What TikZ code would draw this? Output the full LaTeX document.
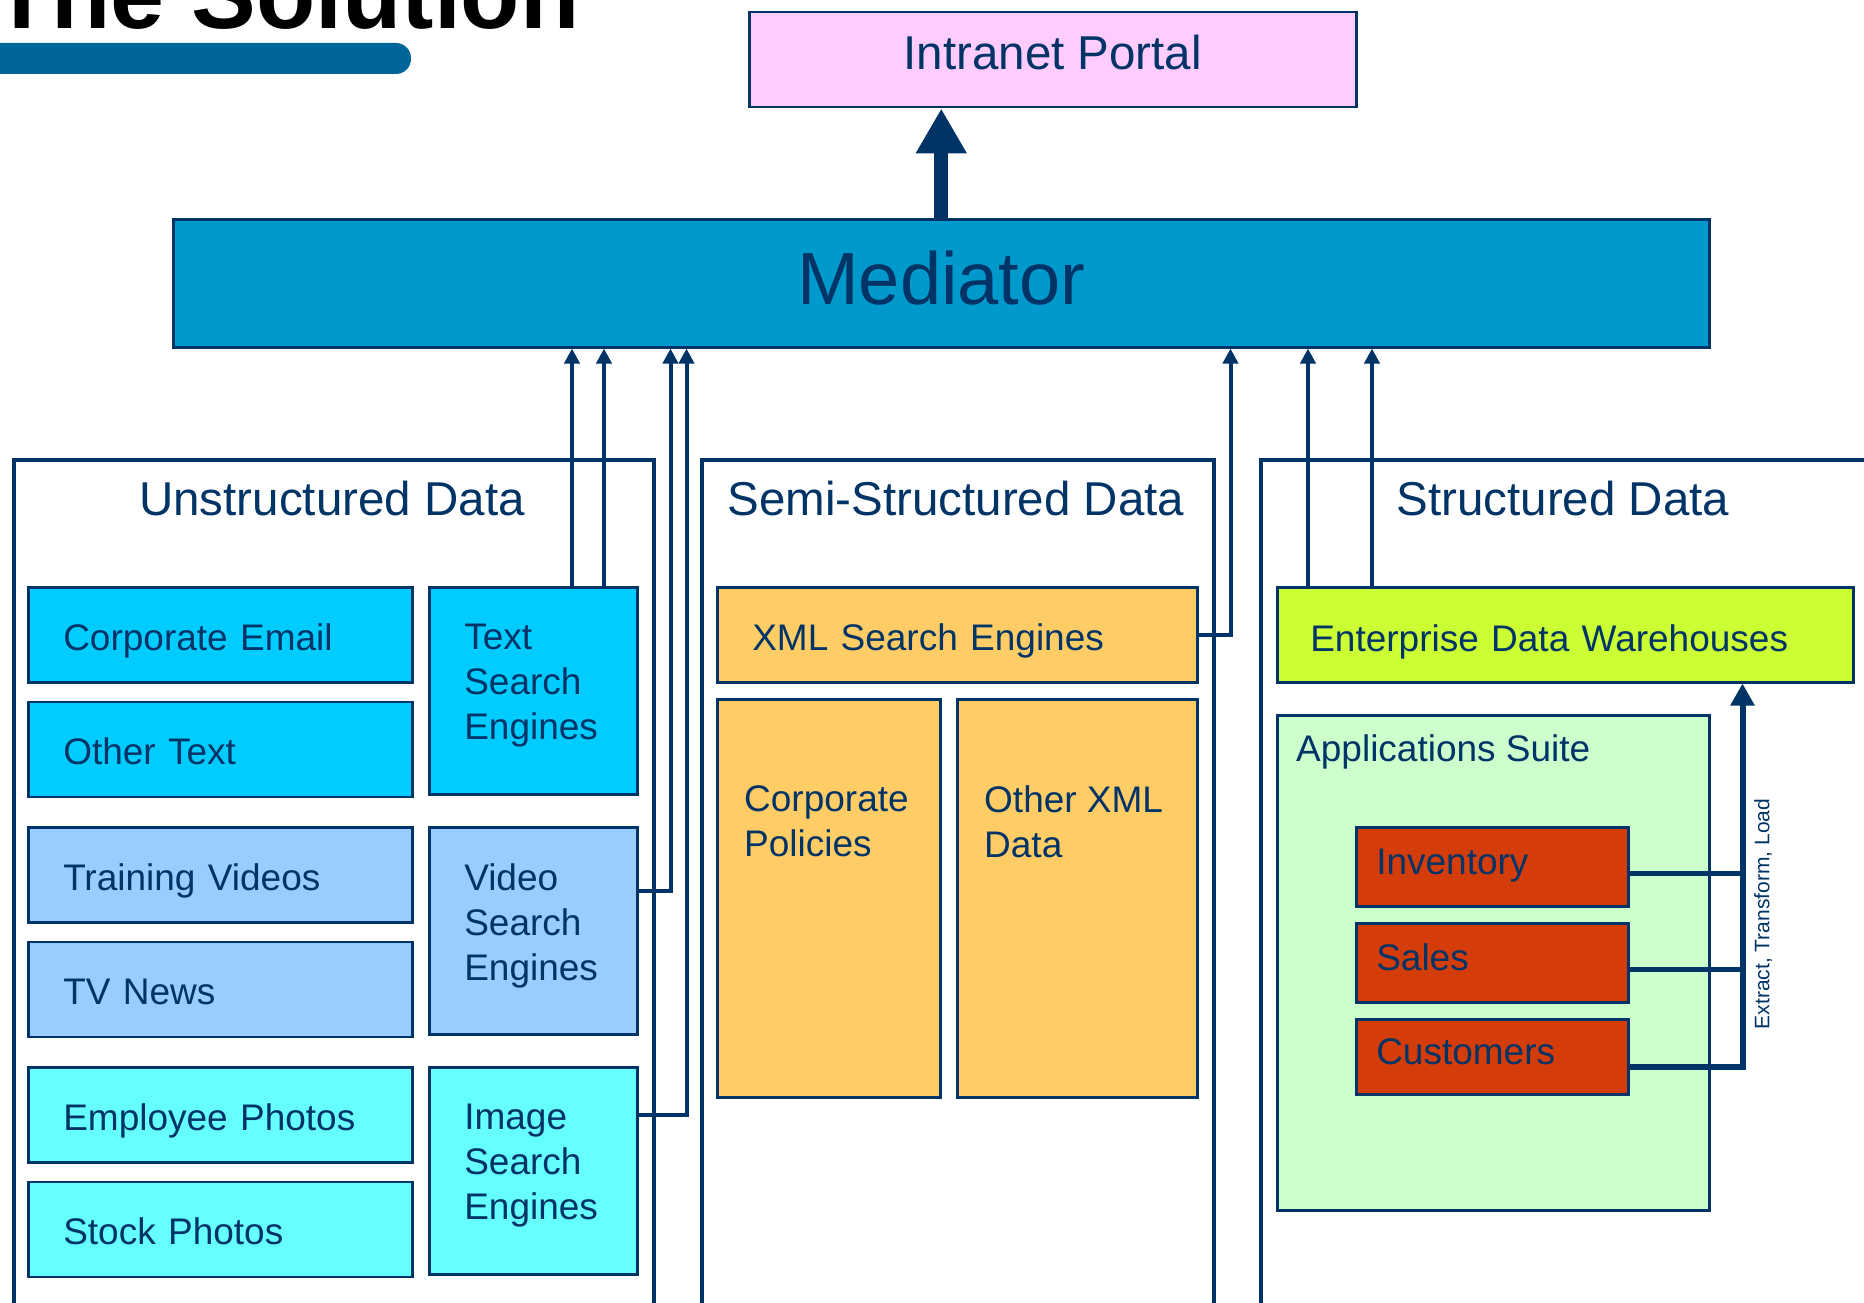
\documentclass[tikz,border=0pt]{standalone}
\usepackage{fontspec}
\setmainfont{Liberation Sans}
\usetikzlibrary{positioning, arrows.meta}
\definecolor{navy}{HTML}{003366}
\definecolor{barblue}{HTML}{006699}
\definecolor{portalpink}{HTML}{FFCCFF}
\definecolor{medblue}{HTML}{0099CC}
\definecolor{textcyan}{HTML}{00CCFF}
\definecolor{videoblue}{HTML}{99CCFF}
\definecolor{imagecyan}{HTML}{66FFFF}
\definecolor{xmlorange}{HTML}{FFCC66}
\definecolor{edwgreen}{HTML}{CCFF33}
\definecolor{suitegreen}{HTML}{CCFFCC}
\definecolor{apporange}{HTML}{D43D0A}
\tikzset{
    x=1pt, y=-1pt, % one unit per pixel, y runs down
    >={Triangle[width=15pt, length=15pt]}, % small feed arrows
    box/.style={draw=navy, line width=2.5pt, anchor=north west, align=left, text=navy,
                font=\fontsize{37}{45}\selectfont, inner ysep=0pt},
    srcbox/.style={box, minimum width=384, minimum height=95, inner xsep=35pt, text width=314pt,
                   text height=35pt, text depth=4pt},
    enginebox/.style={box, minimum width=208, minimum height=207, inner xsep=35pt, text width=138pt,
                      execute at end node={\par\vspace{10pt}}},
    xmlbox/.style={box, fill=xmlorange},
    appbox/.style={box, fill=apporange, minimum width=272, inner xsep=20pt, text width=232pt,
                   text height=27pt, text depth=12pt},
    frame/.style={draw=navy, line width=3.5pt, anchor=north west, minimum width=#1, minimum height=900},
    heading/.style={text=navy, font=\fontsize{47.5}{55}\selectfont},
    boxtext/.style={anchor=north west, align=left, text=navy, font=\fontsize{37}{45}\selectfont, inner sep=0pt},
    feed/.style={->, draw=navy, line width=4pt},
}

\begin{document}
\begin{tikzpicture}
    \clip (0,0) rectangle (1864,1303);
    % title
    \node[anchor=base west, inner sep=0pt, font=\fontsize{97}{100}\selectfont\bfseries] (title) at (-8,29) {The Solution};
    \fill[barblue, rounded corners=15pt] (-30,43) rectangle (411,74);

    % top of the stack
    \node[box, fill=portalpink, minimum width=607, minimum height=95, align=center, text depth=14pt,
          font=\fontsize{47.5}{55}\selectfont] (portal) at (748,11) {Intranet Portal};
    \node[box, fill=medblue, minimum width=1536, minimum height=128, align=center, text depth=12pt,
          font=\fontsize{74}{80}\selectfont] (mediator) at (172,218) {Mediator};
    \draw[navy, line width=14pt, -{Triangle[width=48pt, length=45pt]}] (mediator.north) -- (mediator.north |- portal.south);

    % the three frames
    \node[frame=640] (unstruct) at (12,458) {};
    \node[frame=512] (semi) at (700,458) {};
    \node[frame=700] (struct) at (1259,458) {};
    \node[heading] (unhead) at (332,499) {Unstructured Data};
    \node[heading] (semihead) at (956,499) {Semi-Structured Data};
    \node[heading] (structhead) at (1563,499) {Structured Data};

    % unstructured sources
    \node[srcbox, fill=textcyan] (email) at (27,586) {Corporate Email};
    \node[srcbox, fill=textcyan, below=17pt of email] (othertext) {Other Text};
    \node[enginebox, fill=textcyan] (textse) at (428,586) {Text\\Search\\Engines};
    \node[srcbox, fill=videoblue] (training) at (27,826) {Training Videos};
    \node[srcbox, fill=videoblue, below=17pt of training] (tvnews) {TV News};
    \node[enginebox, fill=videoblue] (videose) at (428,826) {Video\\Search\\Engines};
    \node[srcbox, fill=imagecyan] (empphotos) at (27,1066) {Employee Photos};
    \node[srcbox, fill=imagecyan, below=17pt of empphotos] (stock) {Stock Photos};
    \node[enginebox, fill=imagecyan] (imagese) at (428,1066) {Image\\Search\\Engines};

    % semi-structured sources
    \node[xmlbox, minimum width=480, minimum height=95, inner xsep=35pt, text width=410pt,
          text height=35pt, text depth=4pt] (xmlse) at (716,586) {XML Search Engines};
    \node[xmlbox, minimum width=223, minimum height=398] (policies) at (716,698) {};
    \node[xmlbox, minimum width=240, minimum height=398] (otherxml) at (956,698) {};
    \node[boxtext] (policiestext) at ([xshift=28pt, yshift=-87pt]policies.north west) {Corporate\\Policies};
    \node[boxtext] (otherxmltext) at ([xshift=28pt, yshift=-87pt]otherxml.north west) {Other XML\\Data};

    % structured sources
    \node[box, fill=edwgreen, minimum width=576, minimum height=95, inner xsep=33pt, text width=510pt,
          text height=37pt, text depth=4pt] (edw) at (1276,586) {Enterprise Data Warehouses};
    \node[box, fill=suitegreen, minimum width=432, minimum height=495] (suite) at (1276,714) {};
    \node[boxtext] (suitetext) at ([xshift=20pt, yshift=-20pt]suite.north west) {Applications Suite};
    \node[appbox, minimum height=79] (inventory) at (1355,826) {Inventory};
    \node[appbox, minimum height=79] (sales) at (1355,922) {Sales};
    \node[appbox, minimum height=75] (customers) at (1355,1018) {Customers};

    % feeds into the mediator
    \draw[feed] ([xshift=144pt]textse.north west) coordinate (t1) -- (t1 |- mediator.south);
    \draw[feed] ([xshift=176pt]textse.north west) coordinate (t2) -- (t2 |- mediator.south);
    \draw[feed] ([yshift=40pt]videose.east) -| ([xshift=32pt]videose.east |- mediator.south);
    \draw[feed] ([yshift=56pt]imagese.east) -| ([xshift=48pt]imagese.east |- mediator.south);
    \draw[feed] (xmlse.east) -| ([xshift=32pt]xmlse.east |- mediator.south);
    \draw[feed] ([xshift=32pt]edw.north west) coordinate (e1) -- (e1 |- mediator.south);
    \draw[feed] ([xshift=96pt]edw.north west) coordinate (e2) -- (e2 |- mediator.south);

    % extract, transform, load
    \draw[navy, line width=5pt] ([yshift=-7pt]inventory.east) -- ++(115,0);
    \draw[navy, line width=5pt] ([yshift=-7pt]sales.east) -- ++(115,0);
    \draw[navy, line width=6pt, -{Triangle[width=23pt, length=22pt]}] ([yshift=-10pt]customers.east) -| ([xshift=113pt]customers.east |- edw.south);
    \node[rotate=90, text=navy, font=\fontsize{21}{24}\selectfont] (etl) at (1763,914) {Extract, Transform, Load};
\end{tikzpicture}
\end{document}
